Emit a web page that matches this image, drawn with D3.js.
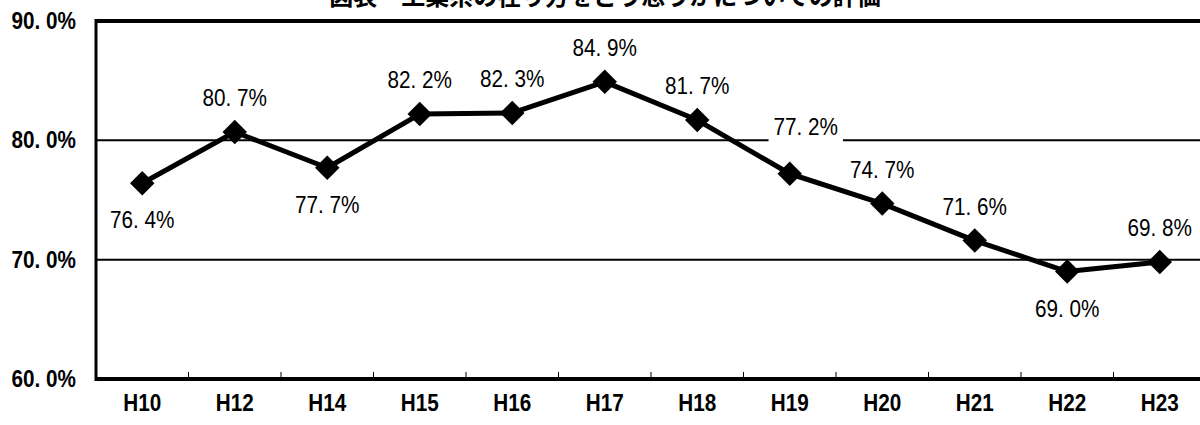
<!DOCTYPE html>
<html>
<head>
<meta charset="utf-8">
<script src="https://cdn.jsdelivr.net/npm/d3@7/dist/d3.min.js"></script>
<style>
  html, body { margin: 0; padding: 0; background: #fff; overflow: hidden; }
  svg { display: block; }
</style>
</head>
<body>
<svg id="chart" width="1200" height="425"></svg>
<script>
// ---- data ----
const categories = ["H10", "H12", "H14", "H15", "H16", "H17", "H18", "H19", "H20", "H21", "H22", "H23"];
const values = [76.4, 80.7, 77.7, 82.2, 82.3, 84.9, 81.7, 77.2, 74.7, 71.6, 69.0, 69.8];
const yTicks = [60, 70, 80, 90];
const titleText = "図表　工業系の在り方をどう思うかについての評価";
// label placement (above / below the marker)
const labelSide = ["below", "above", "below", "above", "above", "above", "above", "above2", "above", "above", "below", "above"];

// ---- layout ----
const svg = d3.select("#chart");
const plotL = 96, plotR = 1206, plotT = 21, plotB = 379;
const axisFont = "'Liberation Sans', Arial, sans-serif";
const sx = 0.9; // horizontal condensing of text

const x = d3.scalePoint().domain(categories).range([plotL, plotR]).padding(0.5);
const xb = d3.scaleBand().domain(categories).range([plotL, plotR]);
const y = d3.scaleLinear().domain([60, 90]).range([plotB, plotT]);

// title (cut off at top, as in the source)
svg.append("text")
  .attr("x", 605).attr("y", 5)
  .attr("text-anchor", "middle")
  .attr("font-family", "'Noto Sans CJK JP', sans-serif")
  .attr("font-weight", "bold")
  .attr("font-size", 24)
  .text(titleText);

// grid lines
svg.append("g").selectAll("line")
  .data(yTicks.filter(t => t > 60 && t < 90))
  .join("line")
  .attr("x1", plotL).attr("x2", 1200)
  .attr("y1", d => y(d)).attr("y2", d => y(d))
  .attr("stroke", "#000").attr("stroke-width", 2);

// frame
svg.append("line").attr("x1", plotL).attr("x2", 1200).attr("y1", y(90)).attr("y2", y(90))
  .attr("stroke", "#000").attr("stroke-width", 4);
svg.append("line").attr("x1", plotL).attr("x2", 1200).attr("y1", y(60)).attr("y2", y(60))
  .attr("stroke", "#000").attr("stroke-width", 4);
svg.append("line").attr("x1", plotL).attr("x2", plotL).attr("y1", y(90) - 2).attr("y2", y(60) + 2)
  .attr("stroke", "#000").attr("stroke-width", 3);

// x tick marks (inside, at band boundaries)
svg.append("g").selectAll("line")
  .data(categories.slice(1))
  .join("line")
  .attr("x1", d => xb(d)).attr("x2", d => xb(d))
  .attr("y1", plotB).attr("y2", plotB - 7)
  .attr("stroke", "#000").attr("stroke-width", 1);

// y axis labels
svg.append("g").selectAll("text")
  .data(yTicks)
  .join("text")
  .attr("transform", d => `translate(76,${y(d) + 8}) scale(${sx},1)`)
  .attr("text-anchor", "end")
  .attr("font-family", axisFont)
  .attr("font-weight", "bold")
  .attr("font-size", 23)
  .text(d => d.toFixed(1).replace(".", ". ") + "%");

// x axis labels
svg.append("g").selectAll("text")
  .data(categories)
  .join("text")
  .attr("transform", d => `translate(${x(d)},411) scale(${sx},1)`)
  .attr("text-anchor", "middle")
  .attr("font-family", axisFont)
  .attr("font-weight", "bold")
  .attr("font-size", 23)
  .text(d => d);

// line
const pts = categories.map((c, i) => ({ c, v: values[i], side: labelSide[i] }));
svg.append("path")
  .datum(pts)
  .attr("fill", "none")
  .attr("stroke", "#000")
  .attr("stroke-width", 5)
  .attr("stroke-linejoin", "round")
  .attr("d", d3.line().x(d => x(d.c)).y(d => y(d.v)));

// markers
svg.append("g").selectAll("path")
  .data(pts)
  .join("path")
  .attr("d", d3.symbol().type(d3.symbolSquare).size(300))
  .attr("transform", d => `translate(${x(d.c)},${y(d.v)}) rotate(45)`)
  .attr("fill", "#000");

// data labels
const fmt = v => v.toFixed(1).replace(".", ". ") + "%";
const lg = svg.append("g");
pts.forEach(d => {
  let lx = x(d.c), ly;
  if (d.side === "below") ly = y(d.v) + 45;
  else if (d.side === "above2") { lx += 16; ly = y(d.v) - 39; }
  else ly = y(d.v) - 26;
  const t = lg.append("text")
    .attr("transform", `translate(${lx},${ly}) scale(${sx},1)`)
    .attr("text-anchor", "middle")
    .attr("font-family", axisFont)
    .attr("font-size", 23)
    .text(fmt(d.v));
  if (d.side === "above2") {
    const bb = t.node().getBBox();
    const w = bb.width * sx;
    lg.insert("rect", "text")
      .attr("x", lx - w / 2 - 5).attr("y", ly + bb.y)
      .attr("width", w + 10).attr("height", bb.height + 4)
      .attr("fill", "#fff");
  }
});
</script>
</body>
</html>
